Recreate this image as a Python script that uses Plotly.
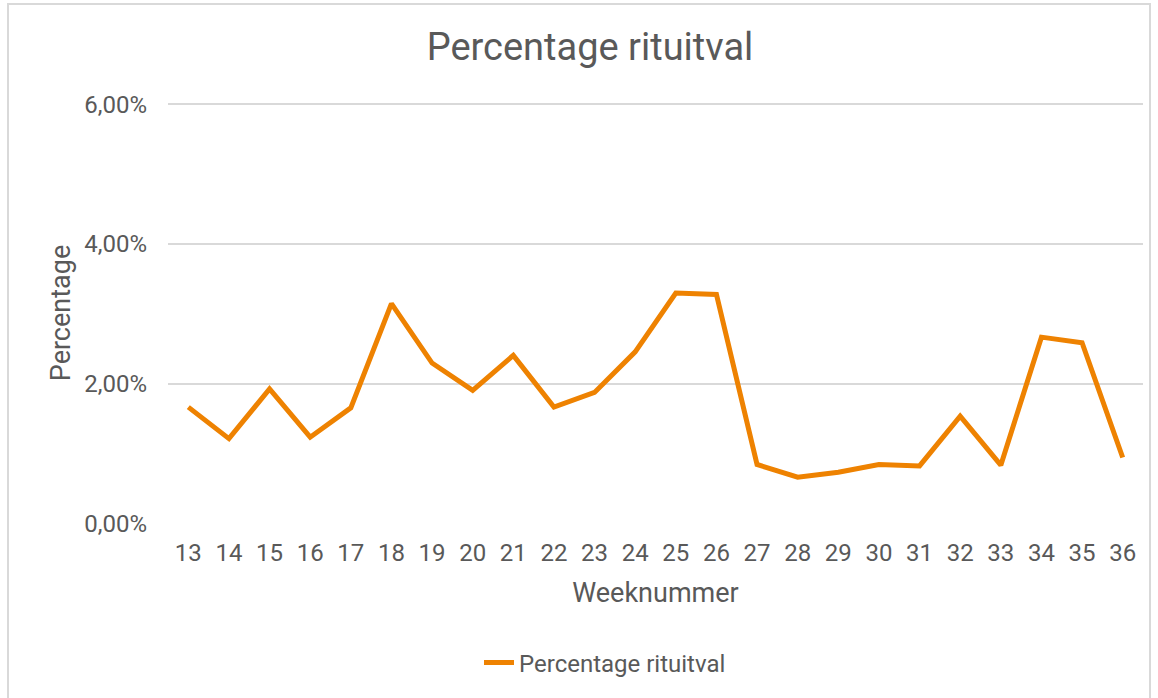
import plotly.graph_objects as go

weeks = [str(w) for w in range(13, 37)]
percentage = [0.0167, 0.0122, 0.0193, 0.0124, 0.0166, 0.0315, 0.0230, 0.0191,
              0.0241, 0.0167, 0.0188, 0.0246, 0.0330, 0.0328, 0.0085, 0.0067,
              0.0074, 0.0085, 0.0083, 0.0154, 0.0084, 0.0267, 0.0259, 0.0095]
y_ticks = [0, 0.02, 0.04, 0.06]
y_tick_text = ["0,00%", "2,00%", "4,00%", "6,00%"]

txt = "#595959"
W, H = 1158, 698
L, R, T, B = 168, 15, 102, 174
PW, PH = W - L - R, H - T - B

fig = go.Figure()
fig.add_trace(go.Scatter(
    x=weeks, y=percentage, mode="lines", name="Percentage rituitval",
    line=dict(color="#EE8201", width=5, shape="linear"),
))

fig.update_layout(
    width=W, height=H,
    paper_bgcolor="white", plot_bgcolor="white",
    font=dict(family="Roboto", color=txt, size=24),
    margin=dict(l=L, r=R, t=T, b=B),
    title=dict(text="Percentage rituitval", x=(590 - L) / PW, xref="paper",
               xanchor="center", y=1 - 47 / H, yanchor="middle",
               font=dict(size=38, color=txt)),
    showlegend=True,
    legend=dict(orientation="h", x=(605 - L) / PW, xref="paper", xanchor="center",
                y=-(663 - (T + PH)) / PH, yanchor="middle",
                font=dict(size=24, color=txt)),
    separators=",.",
)
fig.update_xaxes(
    type="category", range=[-0.5, 23.5], showgrid=False, showline=False,
    ticks="", tickfont=dict(size=24, color=txt), ticklabelstandoff=12,
    title=dict(text="Weeknummer", font=dict(size=27, color=txt), standoff=17),
)
fig.update_yaxes(
    range=[0, 0.0603], tickvals=y_ticks, ticktext=y_tick_text,
    showgrid=True, gridcolor="#D9D9D9", gridwidth=1.5, zeroline=False,
    showline=False, ticks="", tickfont=dict(size=24, color=txt), ticklabelstandoff=20,
    title=dict(text="Percentage", font=dict(size=27, color=txt), standoff=5),
)
fig.add_hline(y=y_ticks[-1], line=dict(color="#D9D9D9", width=1.5), layer="below")
fig.add_shape(type="rect", xref="paper", yref="paper",
              x0=-(L - 8) / PW, x1=1 + (R - 8) / PW,
              y0=-(B + 10) / PH, y1=1 + (T - 4) / PH,
              line=dict(color="#D9D9D9", width=2), fillcolor="rgba(0,0,0,0)",
              layer="below")
fig.write_html("out.html", config={"displayModeBar": False},
               post_script="document.body.style.margin='0';")
